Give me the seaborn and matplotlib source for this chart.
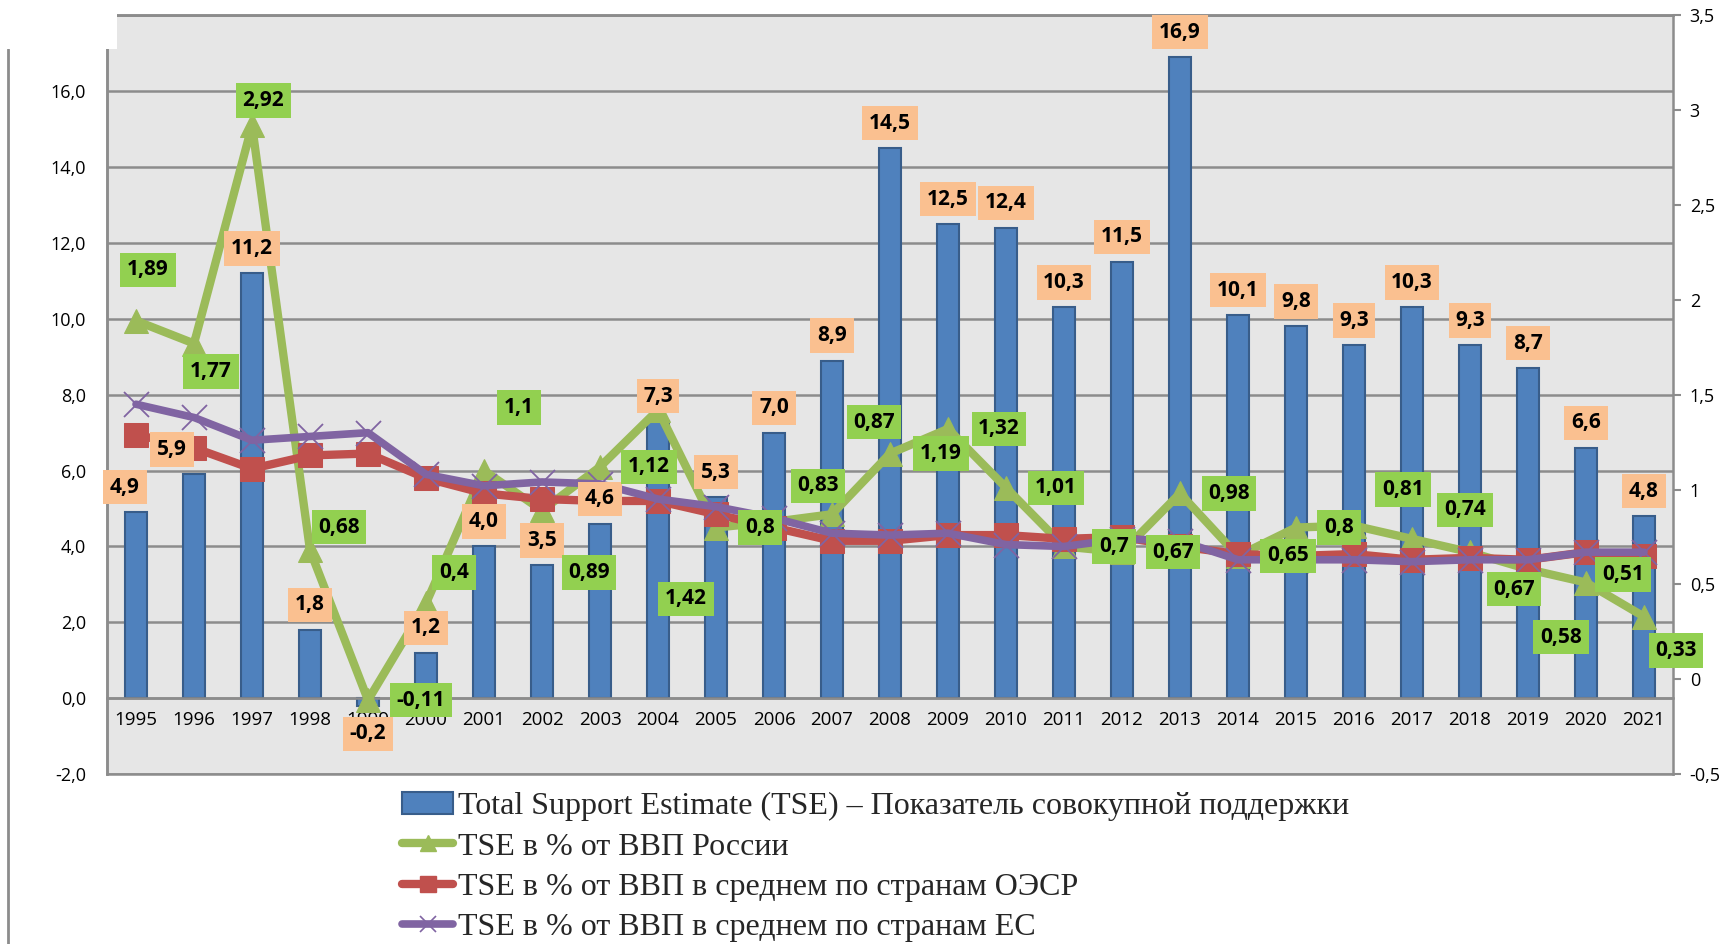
# -*- coding: utf-8 -*-
# TSE: bars (bn USD, left axis) + % of GDP lines (right axis)

import numpy as np
import pandas as pd
import matplotlib.pyplot as plt
import seaborn as sns
from matplotlib.patches import Patch, Rectangle
from matplotlib.lines import Line2D
from matplotlib.ticker import FuncFormatter, MultipleLocator

# Data
years = [str(y) for y in range(1995, 2022)]
tse = [4.9, 5.9, 11.2, 1.8, -0.2, 1.2, 4.0, 3.5, 4.6, 7.3, 5.3, 7.0, 8.9, 14.5,
       12.5, 12.4, 10.3, 11.5, 16.9, 10.1, 9.8, 9.3, 10.3, 9.3, 8.7, 6.6, 4.8]
russia = [1.89, 1.77, 2.92, 0.68, -0.11, 0.4, 1.1, 0.89, 1.12, 1.42, 0.8, 0.83, 0.87, 1.19,
          1.32, 1.01, 0.7, 0.67, 0.98, 0.65, 0.8, 0.81, 0.74, 0.67, 0.58, 0.51, 0.33]
oecd = [1.29, 1.22, 1.11, 1.18, 1.19, 1.06, 0.98, 0.95, 0.94, 0.94, 0.87, 0.80, 0.73, 0.73,
        0.76, 0.76, 0.74, 0.75, 0.70, 0.66, 0.65, 0.66, 0.63, 0.64, 0.63, 0.67, 0.65]
eu = [1.45, 1.38, 1.26, 1.28, 1.30, 1.08, 1.02, 1.04, 1.03, 0.95, 0.91, 0.85, 0.77, 0.76,
      0.77, 0.71, 0.70, 0.74, 0.73, 0.63, 0.63, 0.63, 0.62, 0.63, 0.63, 0.67, 0.67]

lab_tse = "Total Support Estimate (TSE) – Показатель совокупной поддержки"
lab_ru = "TSE в % от ВВП России"
lab_oecd = "TSE в % от ВВП в среднем по странам ОЭСР"
lab_eu = "TSE в % от ВВП в среднем по странам ЕС"

# label offsets (pixels) for the green data labels, placed by hand in the original
ru_off = [(12, 51), (17, -28), (11, 25), (29, 23), (53, 0), (28, 31), (35, 63), (47, -62),
          (49, 0), (28, -189), (44, 0), (44, 36), (42, 92), (51, 0), (51, 0), (50, 0),
          (50, 0), (51, 0), (49, 0), (50, 0), (43, 0), (49, 36), (53, 29), (44, -37),
          (33, -68), (37, 8), (32, -34)]

df = pd.DataFrame({"year": years, "tse": tse, "russia": russia, "oecd": oecd, "eu": eu})
df["pos"] = np.arange(len(df))

# Style
sns.set_theme(style="white")
plt.rcParams["font.family"] = ["Open Sans", "DejaVu Sans"]

C_BAR, C_BAR_E = "#4F81BD", "#385D8A"
C_GREEN, C_RED, C_PURPLE = "#9BBB59", "#C0504D", "#8064A2"
C_GRID = "#8C8C8C"

fig = plt.figure(figsize=(17.29, 9.44), dpi=100)
ax = fig.add_axes([0.0619, 0.180, 0.9057, 0.8037])
ax.set_facecolor("#E6E6E6")
ax2 = ax.twinx()

# Bars
sns.barplot(data=df, x="year", y="tse", color=C_BAR, saturation=1, width=0.37,
            edgecolor=C_BAR_E, linewidth=1.5, ax=ax, zorder=2)

# Lines on the right axis
sns.lineplot(data=df, x="pos", y="russia", ax=ax2, color=C_GREEN, linewidth=6,
             marker="^", markersize=17, markeredgecolor=C_GREEN, solid_joinstyle="round")
sns.lineplot(data=df, x="pos", y="oecd", ax=ax2, color=C_RED, linewidth=6,
             marker="s", markersize=17, markeredgecolor=C_RED, solid_joinstyle="round")
sns.lineplot(data=df, x="pos", y="eu", ax=ax2, color=C_PURPLE, linewidth=5.5,
             marker="x", markersize=18, markeredgewidth=1.3, markeredgecolor=C_PURPLE,
             solid_joinstyle="round")

# Axes
ax.set_ylim(-2, 18)
ax2.set_ylim(-0.5, 3.5)
ax.set_xlim(-0.5, len(years) - 0.5)
for a in (ax, ax2):
    a.set_xlabel("")
    a.set_ylabel("")

ax.yaxis.set_major_locator(MultipleLocator(2))
ax.yaxis.set_major_formatter(FuncFormatter(lambda v, p: f"{v:.1f}".replace(".", ",")))
ax2.yaxis.set_major_locator(MultipleLocator(0.5))
ax2.yaxis.set_major_formatter(FuncFormatter(lambda v, p: f"{v:g}".replace(".", ",")))

ax.yaxis.grid(True, color=C_GRID, linewidth=1.8)
ax.set_axisbelow(True)
ax.tick_params(axis="y", length=0, pad=15, labelsize=13, labelcolor="black")
ax2.tick_params(axis="y", direction="out", length=6, width=1.5, color=C_GRID,
                pad=6, labelsize=13, labelcolor="black")
ax.tick_params(axis="x", length=0, pad=9, labelsize=13.5, labelcolor="black")
for lbl in ax.get_xticklabels():
    lbl.set_fontfamily("Liberation Serif")

ax.spines["bottom"].set_position(("data", 0))
for a in (ax, ax2):
    for s in a.spines.values():
        s.set_color(C_GRID)
        s.set_linewidth(1.8)
ax.spines["right"].set_visible(False)

# Data labels
box_kw = dict(boxstyle="square,pad=0.32", ec="none")
for i, v in enumerate(tse):
    dx, dy = (0, 25) if v >= 0 else (0, -28)
    if i == 0:
        dx = -11
    if i == 1:
        dx = -22
    ax2.annotate(f"{v:.1f}".replace(".", ","), xy=(i, v), xycoords=ax.transData,
                 xytext=(dx, dy), textcoords="offset pixels", ha="center", va="center",
                 fontsize=15, fontweight="bold", color="black",
                 bbox=dict(fc="#FAC090", **box_kw), zorder=6)
for i, v in enumerate(russia):
    dx, dy = ru_off[i]
    ax2.annotate(f"{v:g}".replace(".", ","), xy=(i, v), xytext=(dx, dy),
                 textcoords="offset pixels", ha="center", va="center",
                 fontsize=15, fontweight="bold", color="black",
                 bbox=dict(fc="#92D050", **box_kw), zorder=6)

# Legend
handles = [
    Patch(facecolor=C_BAR, edgecolor=C_BAR_E, linewidth=1.5),
    Line2D([0], [0], color=C_GREEN, lw=6, marker="^", markersize=12),
    Line2D([0], [0], color=C_RED, lw=6, marker="s", markersize=12),
    Line2D([0], [0], color=C_PURPLE, lw=5.5, marker="x", markersize=12, markeredgewidth=1.2),
]
fig.legend(handles, [lab_tse, lab_ru, lab_oecd, lab_eu], loc="upper left",
           bbox_to_anchor=(0.2325, 0.161), frameon=False,
           prop={"family": "Liberation Serif", "size": 23},
           handlelength=1.6, handletextpad=0.15, labelspacing=0.34,
           borderaxespad=0, borderpad=0)

# white corner and outer frame line of the original slide
fig.add_artist(Rectangle((0, 1 - 49 / 944), 117 / 1729, 49 / 944, transform=fig.transFigure,
                         facecolor="white", edgecolor="none", zorder=10))
fig.add_artist(Line2D([7.6 / 1729] * 2, [0, 1 - 49 / 944], transform=fig.transFigure,
                      color=C_GRID, lw=2))

fig.savefig("out.png", dpi=100)
